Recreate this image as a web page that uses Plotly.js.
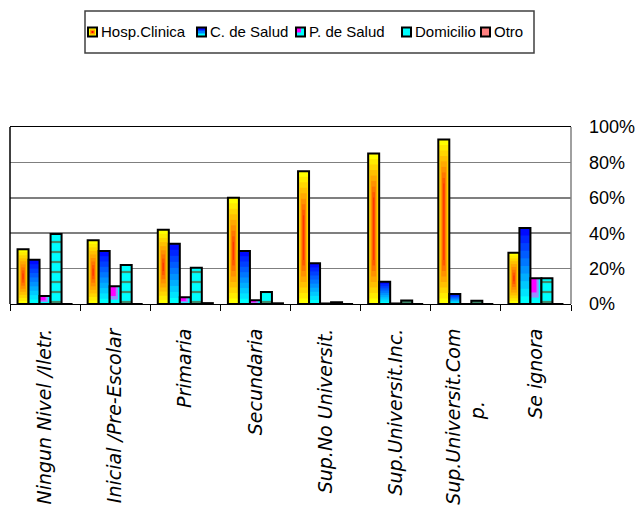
<!DOCTYPE html>
<html><head><meta charset="utf-8">
<script src="https://cdn.plot.ly/plotly-3.0.1.min.js"></script>
<style>html,body{margin:0;padding:0;background:#fff}#chart{width:639px;height:509px}</style>
</head><body><div id="chart"></div>
<script>
// ---- data ----
const categories = ["Ningun Nivel /Iletr.", "Inicial /Pre-Escolar", "Primaria", "Secundaria",
  "Sup.No Universit.", "Sup.Universit.Inc.",
  "Sup.Universit.Com<br>p.\u00A0\u00A0\u00A0\u00A0\u00A0\u00A0\u00A0\u00A0\u00A0\u00A0\u00A0\u00A0", "Se ignora"];
const hospClinica = [31, 36, 42, 60, 75, 85, 93, 29];
const cSalud      = [25, 30, 34, 30, 23, 12.6, 5.7, 43];
const pSalud      = [4.5, 10, 3.8, 2.1, 0.3, 0.3, 0, 14.5];
const domicilio   = [39.5, 22, 20.5, 6.8, 1, 2, 1.8, 14.5];
const otro        = [0, 0, 0.5, 0.4, 0, 0, 0, 0];
const seriesNames = ["Hosp.Clinica", "C. de Salud", "P. de Salud", "Domicilio", "Otro"];
const yTickVals = [0, 20, 40, 60, 80, 100];
const yTickText = ["0%", "20%", "40%", "60%", "80%", "100%"];

// ---- styling helpers ----
const BW = 0.157;
const START = -0.3925;
const off = i => START + i * BW;
const traces = [];
const common = {type: 'bar', x: categories, hoverinfo: 'skip', showlegend: false};
const outline = (vals, i) => Object.assign({}, common, {
  y: vals, offset: off(i), width: BW,
  marker: {color: 'rgba(0,0,0,0)', line: {color: '#000', width: 2}}
});

// Hosp.Clinica: yellow edges -> red centre
const NH = 9;
for (let k = 0; k < NH; k++) {
  const f = 1 - k / NH;
  const g = Math.round(255 * Math.pow(f, 0.7));
  const ins = v => (1 - f) * Math.min(v / 2, 28);
  traces.push(Object.assign({}, common, {
    name: seriesNames[0],
    y: hospClinica.map(v => v - 2 * ins(v)),
    base: hospClinica.map(v => ins(v)),
    offset: off(0) + BW * (1 - f) / 2, width: BW * f,
    marker: {color: `rgb(255,${g},0)`, line: {width: 0}}
  }));
}
traces.push(Object.assign(outline(hospClinica, 0), {name: seriesNames[0]}));

// C. de Salud: cyan bottom -> blue top
const NC = 10;
for (let k = 0; k < NC; k++) {
  const t = k / (NC - 1);
  const g = Math.round(255 - 245 * t);
  traces.push(Object.assign({}, common, {
    name: seriesNames[1],
    y: cSalud.map(v => v * (1 - k / NC)),
    base: cSalud.map(v => v * k / NC),
    offset: off(1), width: BW,
    marker: {color: `rgb(0,${g},255)`, line: {width: 0}}
  }));
}
traces.push(Object.assign(outline(cSalud, 1), {name: seriesNames[1]}));

// P. de Salud: cyan with magenta corner
traces.push(Object.assign({}, common, {
  name: seriesNames[2], y: pSalud, offset: off(2), width: BW,
  marker: {color: '#00ffff', line: {width: 0}}
}));
[[0.75, '#9a8cff'], [0.55, '#ff00ff']].forEach(([f, c]) => {
  traces.push(Object.assign({}, common, {
    name: seriesNames[2],
    y: pSalud.map(v => v * f), base: pSalud.map(v => v * (1 - f)),
    offset: off(2), width: BW * f,
    marker: {color: c, line: {width: 0}}
  }));
});
traces.push(Object.assign(outline(pSalud, 2), {name: seriesNames[2]}));

// Domicilio: cyan with horizontal stripes
traces.push(Object.assign({}, common, {
  name: seriesNames[3], y: domicilio, offset: off(3), width: BW,
  marker: {color: '#00ffff', line: {color: '#000', width: 2},
    pattern: {shape: '-', fillmode: 'replace', fgcolor: '#3f8a6c', bgcolor: '#00ffff', size: 10, solidity: 0.22}}
}));

// Otro
traces.push(Object.assign({}, common, {
  name: seriesNames[4], y: otro, offset: off(4), width: BW,
  marker: {color: '#ff8080', line: {color: '#000', width: 2}}
}));

// ---- legend (drawn as shapes + text, Excel style) ----
const PX = x => (x - 10) / 561;
const PY = y => (304 - y) / 177;
const legendX = [88, 197, 296, 402, 481];
const SQ = 9, LY = 32;
const shapes = [
  {type: 'line', xref: 'paper', yref: 'paper', x0: 0, x1: 0, y0: 0, y1: 1, line: {color: '#000', width: 1.5}, layer: 'above'},
  {type: 'line', xref: 'paper', yref: 'paper', x0: 1, x1: 1, y0: 0, y1: 1, line: {color: '#808080', width: 1.5}, layer: 'above'},
  {type: 'rect', xref: 'paper', yref: 'paper', x0: PX(85), x1: PX(534), y0: PY(53), y1: PY(11),
    line: {color: '#404040', width: 1.5}, fillcolor: 'rgba(0,0,0,0)', layer: 'above'}
];
const rect = (x0, y0, x1, y1, fill, lw) => ({type: 'rect', xref: 'paper', yref: 'paper',
  x0: PX(x0), x1: PX(x1), y0: PY(y1), y1: PY(y0), fillcolor: fill,
  line: {color: '#000', width: lw || 0}, layer: 'above'});
const sq = i => [legendX[i], LY - SQ / 2, legendX[i] + SQ, LY + SQ / 2];
// Hosp
(() => { const [a, b, c, d] = sq(0);
  shapes.push(rect(a, b, c, d, '#ffff00'));
  shapes.push(rect(a + 2, b + 2, c - 2, d - 2, '#ff9900'));
  shapes.push(rect(a + 3.5, b + 3.5, c - 3.5, d - 3.5, '#ff0000'));
  shapes.push(rect(a, b, c, d, 'rgba(0,0,0,0)', 2)); })();
// C. de Salud
(() => { const [a, b, c, d] = sq(1);
  shapes.push(rect(a, b, c, d, '#00ffff'));
  shapes.push(rect(a, b, c, b + 6, '#0080ff'));
  shapes.push(rect(a, b, c, b + 3, '#0010ff'));
  shapes.push(rect(a, b, c, d, 'rgba(0,0,0,0)', 2)); })();
// P. de Salud
(() => { const [a, b, c, d] = sq(2);
  shapes.push(rect(a, b, c, d, '#00ffff'));
  shapes.push(rect(a, b, a + 5, b + 5, '#ff00ff'));
  shapes.push(rect(a, b, c, d, 'rgba(0,0,0,0)', 2)); })();
// Domicilio
(() => { const [a, b, c, d] = sq(3); shapes.push(rect(a, b, c, d, '#00ffff', 2)); })();
// Otro
(() => { const [a, b, c, d] = sq(4); shapes.push(rect(a, b, c, d, '#ff8080', 2)); })();

const annotations = seriesNames.map((n, i) => ({
  text: n, xref: 'paper', yref: 'paper', x: PX(legendX[i] + SQ + 2), y: PY(LY),
  xanchor: 'left', yanchor: 'middle', showarrow: false,
  font: {family: 'Liberation Sans, Arial, sans-serif', size: 15, color: '#000'}
}));

const layout = {
  width: 639, height: 509,
  margin: {l: 10, r: 68, t: 127, b: 205, pad: 0},
  paper_bgcolor: '#fff', plot_bgcolor: '#fff',
  barmode: 'overlay',
  showlegend: false,
  xaxis: {
    type: 'category', range: [-0.5, 7.5], fixedrange: true,
    showline: true, linecolor: '#000', linewidth: 1, mirror: true,
    ticks: 'outside', tickson: 'boundaries', ticklen: 6, tickcolor: '#000', tickwidth: 1,
    tickangle: -90, ticklabelstandoff: 16,
    tickfont: {family: 'DejaVu Sans, sans-serif', size: 19, color: '#000', style: 'italic'},
    showgrid: false, automargin: false
  },
  yaxis: {
    side: 'right', range: [0, 100], fixedrange: true,
    tickvals: yTickVals, ticktext: yTickText,
    showgrid: true, gridcolor: '#7f7f7f', gridwidth: 1.5,
    zeroline: false, showline: false, ticks: '', ticklabelstandoff: 17,
    tickfont: {family: 'Liberation Sans, Arial, sans-serif', size: 18, color: '#000'},
    automargin: false
  },
  shapes: shapes,
  annotations: annotations
};

Plotly.newPlot('chart', traces, layout, {displayModeBar: false, staticPlot: true});
</script>
</body></html>
